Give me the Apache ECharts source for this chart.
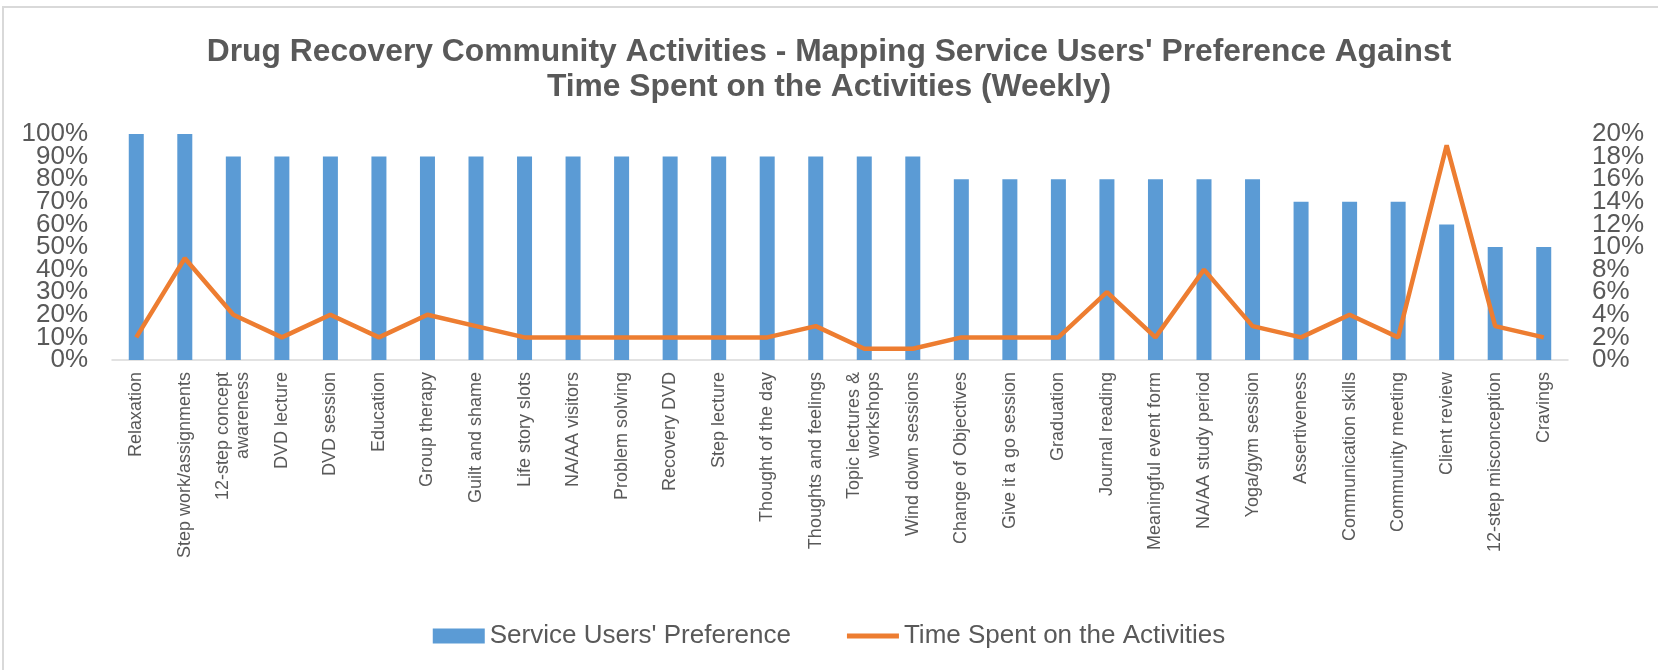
<!DOCTYPE html>
<html>
<head>
<meta charset="utf-8">
<title>Drug Recovery Community Activities</title>
<script type="text/javascript" src="https://cdn.jsdelivr.net/npm/echarts@6/dist/echarts.min.js"></script>
<style>
	html, body { margin: 0; padding: 0; background: #fff; }
</style>
</head>
<body>
	<div id="container" style="width: 1658px; height: 670px;"></div>
	<script type="text/javascript">
	var activities = ['Relaxation', 'Step work/assignments', '12-step concept\nawareness', 'DVD lecture', 'DVD session',
		'Education', 'Group therapy', 'Guilt and shame', 'Life story slots', 'NA/AA visitors',
		'Problem solving', 'Recovery DVD', 'Step lecture', 'Thought of the day', 'Thoughts and feelings',
		'Topic lectures &\nworkshops', 'Wind down sessions', 'Change of Objectives', 'Give it a go session', 'Graduation',
		'Journal reading', 'Meaningful event form', 'NA/AA study period', 'Yoga/gym session', 'Assertiveness',
		'Communication skills', 'Community meeting', 'Client review', '12-step misconception', 'Cravings'];
	// % of service users preferring the activity
	var preference = [100, 100, 90, 90, 90, 90, 90, 90, 90, 90,
		90, 90, 90, 90, 90, 90, 90, 80, 80, 80,
		80, 80, 80, 80, 70, 70, 70, 60, 50, 50];
	// % of weekly time spent
	var timeSpent = [2, 9, 4, 2, 4, 2, 4, 3, 2, 2,
		2, 2, 2, 2, 3, 1, 1, 2, 2, 2,
		6, 2, 8, 3, 2, 4, 2, 19, 3, 2];

	var dom = document.getElementById("container");
	var myChart = echarts.init(dom);
	var textColor = '#595959';

	// the tick labels are taller than their spacing, so echarts would drop every
	// other one; split them over two stacked axes (even steps / odd steps)
	function pctAxis(pos, max, step, odd) {
		return {
			type: 'value',
			position: pos,
			min: 0, max: max, interval: odd ? step / 2 : step,
			splitLine: { show: false },
			axisLine: { show: false },
			axisTick: { show: false },
			axisLabel: {
				color: textColor, fontSize: 26, margin: 24,
				showMinLabel: true, showMaxLabel: true,
				formatter: function (v) {
					if (odd && v % step === 0) return '';
					return v + '%';
				}
			}
		};
	}

	option = {
		animation: false,
		textStyle: { fontFamily: 'Liberation Sans, Arial, sans-serif' },
		title: {
			text: "Drug Recovery Community Activities - Mapping Service Users' Preference Against\nTime Spent on the Activities (Weekly)",
			left: 'center',
			top: 30,
			textStyle: { color: textColor, fontSize: 31.8, fontWeight: 'bold', lineHeight: 35 }
		},
		graphic: [{
			type: 'rect',
			shape: { x: 3, y: 7, width: 1720, height: 720 },
			style: { fill: 'none', stroke: '#d9d9d9', lineWidth: 2 },
			silent: true
		}],
		legend: {
			bottom: 16,
			left: 'center',
			itemGap: 56,
			itemWidth: 52,
			itemHeight: 15,
			textStyle: { color: textColor, fontSize: 26 },
			data: [
				{ name: "Service Users' Preference", icon: 'rect' },
				{ name: 'Time Spent on the Activities', icon: 'path://M0,0 L52,0 L52,5 L0,5 Z' }
			]
		},
		grid: { left: 112, right: 90, top: 134, bottom: 310 },
		xAxis: {
			type: 'category',
			data: activities,
			axisLine: { lineStyle: { color: '#d9d9d9', width: 1.5 } },
			axisTick: { show: false },
			axisLabel: { interval: 0, rotate: 90, color: textColor, fontSize: 18, margin: 12, lineHeight: 20 }
		},
		yAxis: [
			pctAxis('left', 100, 20, false),
			pctAxis('right', 20, 4, false),
			pctAxis('left', 100, 20, true),
			pctAxis('right', 20, 4, true)
		],
		series: [{
			name: "Service Users' Preference",
			type: 'bar',
			yAxisIndex: 0,
			data: preference,
			barWidth: 15,
			itemStyle: { color: '#5B9BD5' }
		}, {
			name: 'Time Spent on the Activities',
			type: 'line',
			yAxisIndex: 1,
			data: timeSpent,
			symbol: 'none',
			lineStyle: { color: '#ED7D31', width: 4.5 },
			itemStyle: { color: '#ED7D31' }
		}]
	};
	myChart.setOption(option, true);
	</script>
</body>
</html>
